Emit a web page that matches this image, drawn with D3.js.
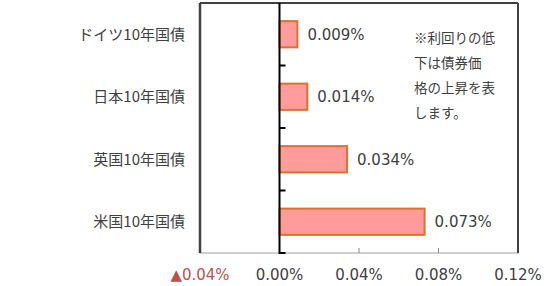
<!DOCTYPE html>
<html>
<head>
<meta charset="utf-8">
<script src="https://cdn.jsdelivr.net/npm/d3@7"></script>
<style>
    body { margin: 0; background: #fff; }
    text { font-family: "Noto Sans CJK JP", "DejaVu Sans", sans-serif; fill: #404040; }
    .tick-num { font-family: "DejaVu Sans", sans-serif; }
</style>
</head>
<body>
<div id="chart"></div>
<script>
const categories = ["ドイツ10年国債", "日本10年国債", "英国10年国債", "米国10年国債"];
const values = [0.009, 0.014, 0.034, 0.073];
const valueLabels = ["0.009%", "0.014%", "0.034%", "0.073%"];
const xTicks = [-0.04, 0, 0.04, 0.08, 0.12];
const xTickLabels = ["▲0.04%", "0.00%", "0.04%", "0.08%", "0.12%"];
const noteLines = ["※利回りの低", "下は債券価", "格の上昇を表", "します。"];

const width = 550, height = 286;
const margin = {t: 3, l: 200, r: 32, b: 33};
const w = width - margin.l - margin.r;
const h = height - margin.t - margin.b;

const svg = d3.select("#chart").append("svg")
    .attr("width", width)
    .attr("height", height);

const g = svg.append("g")
    .attr("transform", `translate(${margin.l}, ${margin.t})`);

const x = d3.scaleLinear().domain([-0.04, 0.12]).range([0, w]);
const y = d3.scaleBand().domain(categories).range([0, h]).paddingInner(0.58).paddingOuter(0.29);
const yb = d3.scaleBand().domain(categories).range([0, h]);

// plot frame
g.append("rect")
    .attr("x", 0).attr("y", 0)
    .attr("width", w).attr("height", h)
    .attr("fill", "none")
    .attr("stroke", "#a0a0a0")
    .attr("stroke-width", 1);
g.append("line")
    .attr("x1", 0).attr("x2", 0).attr("y1", 0).attr("y2", h)
    .attr("stroke", "#404040").attr("stroke-width", 2.5);
g.append("line")
    .attr("x1", 0).attr("x2", w).attr("y1", 0).attr("y2", 0)
    .attr("stroke", "#404040").attr("stroke-width", 2);
g.append("line")
    .attr("x1", w).attr("x2", w).attr("y1", 0).attr("y2", h)
    .attr("stroke", "#404040").attr("stroke-width", 2);

// x tick marks along the bottom
g.selectAll(".xtick")
    .data(xTicks.filter(d => d > 0 && d < 0.12))
    .join("line")
    .attr("class", "xtick")
    .attr("x1", d => x(d)).attr("x2", d => x(d))
    .attr("y1", h - 5).attr("y2", h)
    .attr("stroke", "#888").attr("stroke-width", 1);

// x labels
g.selectAll(".xlabel")
    .data(xTicks)
    .join("text")
    .attr("class", "xlabel tick-num")
    .attr("x", d => x(d))
    .attr("y", h + 27)
    .attr("text-anchor", "middle")
    .attr("font-size", 15)
    .style("fill", d => d < 0 ? "#c0504d" : "#404040")
    .text((d, i) => xTickLabels[i]);

// bars
g.selectAll(".bar")
    .data(values)
    .join("rect")
    .attr("class", "bar")
    .attr("x", x(0))
    .attr("y", (d, i) => y(categories[i]))
    .attr("width", d => x(d) - x(0))
    .attr("height", y.bandwidth())
    .attr("fill", "#ff9b9b")
    .attr("stroke", "#e0702a")
    .attr("stroke-width", 2);

// value labels
g.selectAll(".vlabel")
    .data(values)
    .join("text")
    .attr("class", "vlabel tick-num")
    .attr("x", d => x(d) + 10)
    .attr("y", (d, i) => y(categories[i]) + y.bandwidth() / 2)
    .attr("dy", "0.36em")
    .attr("font-size", 15)
    .text((d, i) => valueLabels[i]);

// zero axis with category ticks
g.append("line")
    .attr("x1", x(0)).attr("x2", x(0))
    .attr("y1", 0).attr("y2", h + 1)
    .attr("stroke", "#000").attr("stroke-width", 2);
g.selectAll(".ytick")
    .data(categories)
    .join("line")
    .attr("class", "ytick")
    .attr("x1", x(0)).attr("x2", x(0) + 6)
    .attr("y1", d => yb(d) + yb.bandwidth())
    .attr("y2", d => yb(d) + yb.bandwidth())
    .attr("stroke", "#000").attr("stroke-width", 2);

// category labels
svg.selectAll(".ylabel")
    .data(categories)
    .join("text")
    .attr("class", "ylabel")
    .attr("x", 185)
    .attr("y", d => margin.t + y(d) + y.bandwidth() / 2)
    .attr("dy", "0.36em")
    .attr("text-anchor", "end")
    .attr("font-size", 15)
    .text(d => d);

// note
svg.append("text")
    .attr("x", 414)
    .attr("y", 43)
    .attr("font-size", 13.5)
    .selectAll("tspan")
    .data(noteLines)
    .join("tspan")
    .attr("x", 414)
    .attr("dy", (d, i) => i === 0 ? 0 : 25)
    .text(d => d);
</script>
</body>
</html>
